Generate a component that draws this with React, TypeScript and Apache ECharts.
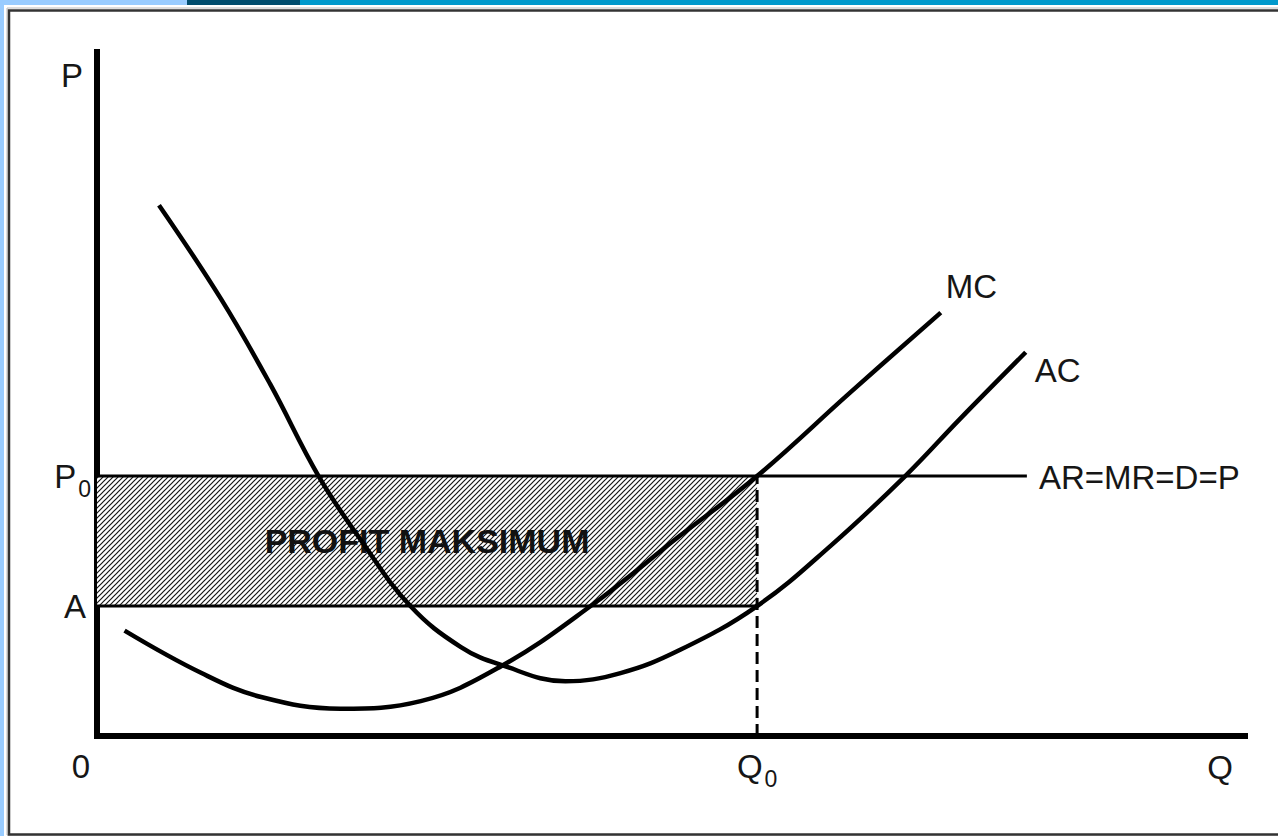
import { useEffect, useRef } from 'react';
import * as echarts from 'echarts';

// Axis ranges (abstract units)
const Q_MAX = 100;
const P_MAX = 100;

// Key levels
const P0 = 38; // price level (AR=MR=D=P)
const A_LEVEL = 19; // average cost at Q0
const Q0 = 57.5; // profit-maximising quantity
const PRICE_LINE_END = 81;

// Marginal cost curve
const mcQ = [2.4, 9.1, 14.3, 21.2, 28.2, 35.2, 43.0, 50.8, 57.5, 65.6, 73.5];
const mcP = [15.4, 9.2, 5.7, 4.0, 5.1, 10.2, 19.0, 29.3, 38.0, 50.2, 61.9];

// Average cost curve
const acQ = [5.4, 10.8, 15.1, 19.3, 23.0, 27.3, 31.7, 35.2, 40.8, 45.6, 50.8, 57.5, 63.9, 70.4, 75.2, 80.9];
const acP = [77.6, 63.9, 51.4, 38.0, 28.6, 19.0, 13.0, 10.4, 8.0, 9.2, 12.6, 19.0, 27.8, 38.0, 46.4, 56.1];

// Texts
const Y_NAME = 'P';
const X_NAME = 'Q';
const MC_LABEL = 'MC';
const AC_LABEL = 'AC';
const PRICE_LABEL = 'AR=MR=D=P';
const AREA_LABEL = 'PROFIT MAKSIMUM';

const FONT = '"Liberation Sans", Arial, sans-serif';
const INK = '#161616';

function makeHatch() {
  const n = 5;
  const c = document.createElement('canvas');
  c.width = n;
  c.height = n;
  const ctx = c.getContext('2d')!;
  ctx.fillStyle = '#ffffff';
  ctx.fillRect(0, 0, n, n);
  ctx.strokeStyle = '#151515';
  ctx.lineWidth = 1.15;
  for (const off of [-n, 0, n]) {
    ctx.beginPath();
    ctx.moveTo(off - 1, n + 1);
    ctx.lineTo(off + n + 1, -1);
    ctx.stroke();
  }
  return c;
}

export default function App() {
  const ref = useRef<HTMLDivElement>(null);

  useEffect(() => {
    document.body.style.margin = '0';
    if (!ref.current) return;
    const chart = echarts.init(ref.current, null, { renderer: 'svg' });

    const hatch = makeHatch();
    const mcData = mcQ.map((q, i) => [q, mcP[i]]);
    const acData = acQ.map((q, i) => [q, acP[i]]);

    const bigText = { fontSize: 33, fontFamily: FONT, color: INK };
    const subText = { fontSize: 23, fontFamily: FONT, color: INK, lineHeight: 8, padding: [25, 0, 0, 2] };

    chart.setOption({
      animation: false,
      backgroundColor: '#ffffff',
      grid: { left: 97, right: 33, top: 52, bottom: 100, containLabel: false, outerBoundsMode: 'none' },
      graphic: [
        { type: 'rect', z: 100, shape: { x: 0, y: 0, width: 4, height: 836 }, style: { fill: '#99ccff' } },
        { type: 'rect', z: 100, shape: { x: 0, y: 0, width: 187, height: 5 }, style: { fill: '#99ccff' } },
        { type: 'rect', z: 100, shape: { x: 187, y: 0, width: 113, height: 5 }, style: { fill: '#004d6e' } },
        { type: 'rect', z: 100, shape: { x: 300, y: 0, width: 978, height: 5 }, style: { fill: '#0099cc' } },
        { type: 'rect', z: 100, shape: { x: 7, y: 8, width: 1300, height: 827 }, style: { fill: 'none', stroke: '#bbbbbb', lineWidth: 1 } },
        { type: 'rect', z: 100, shape: { x: 9, y: 10.5, width: 1300, height: 824 }, style: { fill: 'none', stroke: '#333333', lineWidth: 2.5 } },
      ],
      xAxis: {
        type: 'value',
        min: 0,
        max: Q_MAX,
        name: X_NAME,
        nameLocation: 'end',
        nameGap: -25,
        nameTextStyle: { ...bigText, align: 'center', verticalAlign: 'top', lineHeight: 62 },
        axisLine: { show: true, onZero: false, lineStyle: { color: '#000', width: 6, cap: 'square' } },
        axisTick: { show: false },
        splitLine: { show: false },
        axisLabel: {
          customValues: [0, Q0],
          margin: 14,
          formatter: (v: number) => (v === 0 ? '{z|0}' : '{q|Q}{s|0}'),
          rich: {
            z: { ...bigText, lineHeight: 33, padding: [0, 32, 0, 0] },
            q: { ...bigText, lineHeight: 33 },
            s: { ...subText },
          },
        },
      },
      yAxis: {
        type: 'value',
        min: 0,
        max: P_MAX,
        name: Y_NAME,
        nameLocation: 'end',
        nameGap: -23,
        nameTextStyle: { ...bigText, align: 'right', verticalAlign: 'middle', padding: [0, 14, 0, 0] },
        axisLine: { show: true, lineStyle: { color: '#000', width: 6, cap: 'square' } },
        axisTick: { show: false },
        splitLine: { show: false },
        axisLabel: {
          customValues: [A_LEVEL, P0],
          margin: 6,
          formatter: (v: number) => (v === P0 ? '{p|P}{s|0}' : '{a|A}'),
          rich: {
            p: { ...bigText, lineHeight: 33 },
            a: { ...bigText, lineHeight: 33, padding: [0, 5, 0, 0] },
            s: { ...subText },
          },
        },
      },
      series: [
        {
          name: 'A',
          type: 'line',
          z: 2,
          showSymbol: false,
          silent: true,
          data: [[0, A_LEVEL], [Q0, A_LEVEL]],
          lineStyle: { color: '#000', width: 3 },
          markArea: {
            silent: true,
            itemStyle: {
              color: { image: hatch, repeat: 'repeat', imageWidth: 5, imageHeight: 5 } as any,
              opacity: 1,
              borderWidth: 0,
            },
            label: {
              show: true,
              position: 'inside',
              formatter: AREA_LABEL,
              fontSize: 34,
              fontWeight: 'bold',
              fontFamily: FONT,
              color: '#111',
            },
            data: [[{ xAxis: 0, yAxis: A_LEVEL }, { xAxis: Q0, yAxis: P0 }]],
          },
        },
        {
          name: 'price',
          type: 'line',
          z: 2,
          showSymbol: false,
          silent: true,
          data: [[0, P0], [PRICE_LINE_END, P0]],
          lineStyle: { color: '#000', width: 3 },
          endLabel: { show: true, formatter: PRICE_LABEL, ...bigText, distance: 12, offset: [0, 1] },
        },
        {
          name: 'Q0',
          type: 'line',
          z: 2,
          showSymbol: false,
          silent: true,
          data: [[Q0, 0], [Q0, P0]],
          lineStyle: { color: '#000', width: 3, type: [12, 6], dashOffset: 0 },
        },
        {
          name: 'MC',
          type: 'line',
          z: 3,
          smooth: 0.4,
          showSymbol: false,
          silent: true,
          data: mcData,
          lineStyle: { color: '#000', width: 4.5 },
          endLabel: { show: true, formatter: MC_LABEL, ...bigText, distance: 5, offset: [0, -26] },
        },
        {
          name: 'AC',
          type: 'line',
          z: 3,
          smooth: 0.4,
          showSymbol: false,
          silent: true,
          data: acData,
          lineStyle: { color: '#000', width: 4.5 },
          endLabel: { show: true, formatter: AC_LABEL, ...bigText, distance: 9, offset: [0, 18] },
        },
      ],
    });

    return () => chart.dispose();
  }, []);

  return (
    <div
      ref={ref}
      style={{ position: 'absolute', left: 0, top: 0, width: 1278, height: 836, background: '#fff' }}
    />
  );
}
